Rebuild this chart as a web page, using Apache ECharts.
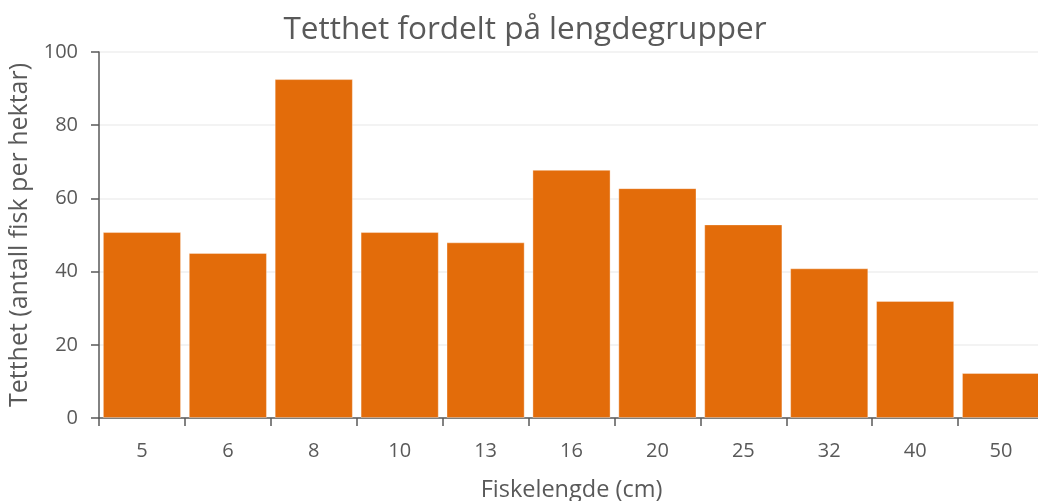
<!DOCTYPE html>
<html>
<head>
<meta charset="utf-8">
<script src="https://cdn.jsdelivr.net/npm/echarts@6/dist/echarts.min.js"></script>
<style>
  html, body { margin: 0; padding: 0; background: #fff; }
  #chart { width: 1038px; height: 501px; }
</style>
</head>
<body>
<div id="chart"></div>
<script>
// Length groups (cm) and density per group
const lengthGroups = ['5', '6', '8', '10', '13', '16', '20', '25', '32', '40', '50'];
const density = [50.8, 45.1, 92.6, 50.8, 48.0, 67.8, 62.8, 52.9, 40.9, 32.0, 12.3];
const yTicks = { min: 0, max: 100, interval: 20 };

const textColor = '#595959';
const fontFamily = '"Open Sans", "Noto Sans", sans-serif';

const chart = echarts.init(document.getElementById('chart'), null, { renderer: 'canvas' });

chart.setOption({
  animation: false,
  title: {
    text: 'Tetthet fordelt på lengdegrupper',
    left: 520,
    top: 9,
    textAlign: 'center',
    textStyle: { color: textColor, fontSize: 31.5, fontWeight: 'normal', fontFamily }
  },
  grid: { left: 99, right: -6, top: 52, bottom: 83, containLabel: false, outerBoundsMode: 'none' },
  xAxis: {
    type: 'category',
    data: lengthGroups,
    name: 'Fiskelengde (cm)',
    nameLocation: 'middle',
    nameGap: 60,
    nameTextStyle: { color: textColor, fontSize: 23.5, fontFamily },
    axisLine: { lineStyle: { color: textColor, width: 1.5 } },
    axisTick: { show: true, length: 8, lineStyle: { color: textColor, width: 1.5 }, alignWithLabel: false },
    axisLabel: { color: textColor, fontSize: 20, margin: 23, fontFamily }
  },
  yAxis: {
    type: 'value',
    min: yTicks.min,
    max: yTicks.max,
    interval: yTicks.interval,
    name: 'Tetthet (antall fisk per hektar)',
    nameLocation: 'middle',
    nameGap: 64,
    nameRotate: 90,
    nameTextStyle: { color: textColor, fontSize: 25, fontFamily },
    axisLine: { show: true, lineStyle: { color: textColor, width: 1.5 } },
    axisTick: { show: true, length: 8, lineStyle: { color: textColor, width: 1.5 } },
    axisLabel: { color: textColor, fontSize: 20, margin: 21, fontFamily },
    splitLine: { lineStyle: { color: '#efefef', width: 1.5 } }
  },
  series: [{
    type: 'bar',
    data: density,
    barCategoryGap: '9%',
    itemStyle: { color: '#E36C0A', borderColor: 'rgba(255,255,255,0.35)', borderWidth: 1 }
  }]
});
</script>
</body>
</html>
